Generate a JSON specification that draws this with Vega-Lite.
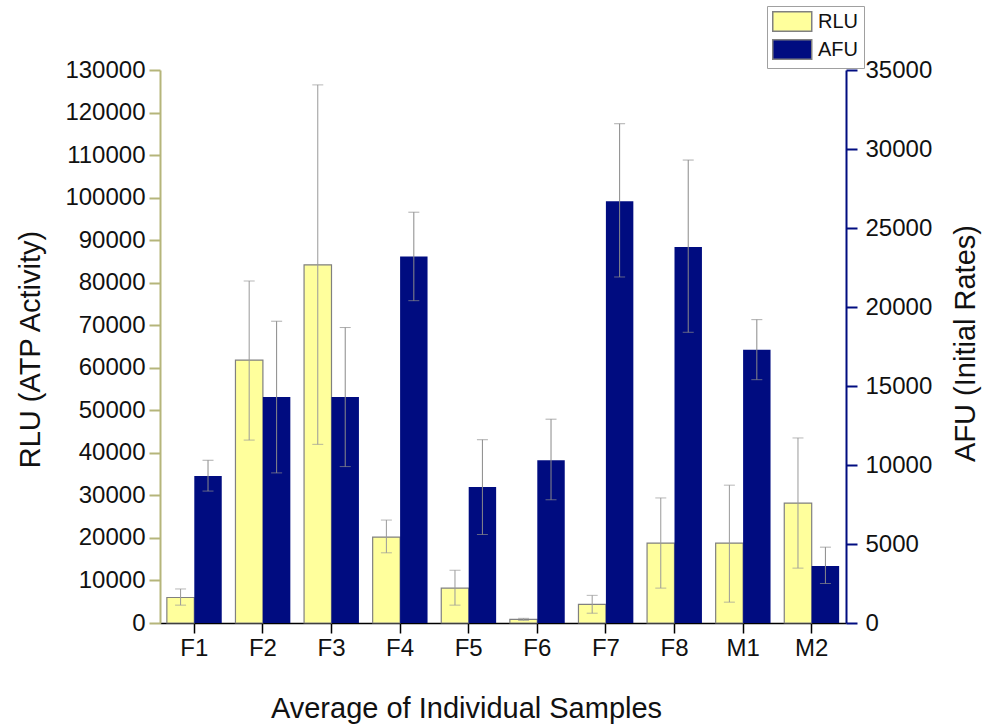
{
  "$schema": "https://vega.github.io/schema/vega-lite/v6.json",
  "width": 686,
  "height": 553,
  "autosize": {"type": "none"},
  "padding": {"left": 160, "top": 70, "right": 143, "bottom": 102},
  "background": "white",
  "config": {
    "view": {"stroke": null},
    "font": "Liberation Sans",
    "axis": {"grid": false, "labelColor": "#111", "titleColor": "#111", "titleFontWeight": "normal", "labelFont": "Liberation Sans", "titleFont": "Liberation Sans"},
    "legend": {"labelFont": "Liberation Sans"}
  },
  "data": {
    "values": [
      {"sample": "F1", "measure": "RLU", "value": 6000, "lo": 4200, "hi": 8000},
      {"sample": "F1", "measure": "AFU", "value": 9300, "lo": 8350, "hi": 10300},
      {"sample": "F2", "measure": "RLU", "value": 61800, "lo": 43000, "hi": 80400},
      {"sample": "F2", "measure": "AFU", "value": 14300, "lo": 9500, "hi": 19100},
      {"sample": "F3", "measure": "RLU", "value": 84200, "lo": 42000, "hi": 126500},
      {"sample": "F3", "measure": "AFU", "value": 14300, "lo": 9900, "hi": 18700},
      {"sample": "F4", "measure": "RLU", "value": 20200, "lo": 16500, "hi": 24200},
      {"sample": "F4", "measure": "AFU", "value": 23200, "lo": 20400, "hi": 26000},
      {"sample": "F5", "measure": "RLU", "value": 8200, "lo": 4200, "hi": 12400},
      {"sample": "F5", "measure": "AFU", "value": 8600, "lo": 5600, "hi": 11600},
      {"sample": "F6", "measure": "RLU", "value": 870, "lo": 600, "hi": 1100},
      {"sample": "F6", "measure": "AFU", "value": 10300, "lo": 7800, "hi": 12900},
      {"sample": "F7", "measure": "RLU", "value": 4400, "lo": 2300, "hi": 6500},
      {"sample": "F7", "measure": "AFU", "value": 26700, "lo": 21900, "hi": 31600},
      {"sample": "F8", "measure": "RLU", "value": 18800, "lo": 8200, "hi": 29400},
      {"sample": "F8", "measure": "AFU", "value": 23800, "lo": 18400, "hi": 29300},
      {"sample": "M1", "measure": "RLU", "value": 18800, "lo": 4900, "hi": 32400},
      {"sample": "M1", "measure": "AFU", "value": 17300, "lo": 15400, "hi": 19200},
      {"sample": "M2", "measure": "RLU", "value": 28200, "lo": 12900, "hi": 43500},
      {"sample": "M2", "measure": "AFU", "value": 3600, "lo": 2500, "hi": 4800}
    ]
  },
  "encoding": {
    "x": {
      "field": "sample", "type": "nominal", "sort": null,
      "scale": {"paddingInner": 0.2, "paddingOuter": 0.1},
      "axis": {
        "title": "Average of Individual Samples", "labelAngle": 0,
        "labelFontSize": 24, "titleFontSize": 29, "titleX": 306, "titleY": 85, "titleBaseline": "middle", "titleAlign": "center",
        "domainColor": "#000", "domainWidth": 1.5, "tickColor": "#000", "tickWidth": 1.5, "tickSize": 10, "labelPadding": 3
      }
    },
    "xOffset": {"field": "measure", "type": "nominal", "scale": {"domain": ["RLU", "AFU"]}}
  },
  "layer": [
    {
      "transform": [{"filter": "datum.measure === 'RLU'"}],
      "encoding": {
        "y": {
          "field": "value", "type": "quantitative",
          "scale": {"domain": [0, 130000], "nice": false},
          "axis": {
            "orient": "left", "title": "RLU (ATP Activity)", "values": [0,10000,20000,30000,40000,50000,60000,70000,80000,90000,100000,110000,120000,130000],
            "format": "d", "labelFontSize": 24, "titleFontSize": 29, "titleX": -130, "titleY": 279, "titleBaseline": "middle", "titleAlign": "center", "titleAngle": -90,
            "domainColor": "#b5b57a", "domainWidth": 2, "tickColor": "#b5b57a", "tickWidth": 2, "tickSize": 11, "labelPadding": 4
          }
        }
      },
      "layer": [
        {"mark": {"type": "bar", "stroke": "#808080", "strokeWidth": 1.2}, "encoding": {"color": {"field": "measure", "type": "nominal", "scale": {"domain": ["RLU", "AFU"], "range": ["#ffff9c", "#000c80"]}, "legend": {
          "title": null, "orient": "none", "legendX": 607, "legendY": -64, "labelFontSize": 20, "symbolType": "M-1,-1H3V1H-1Z", "symbolSize": 380, "symbolStrokeColor": "#808080", "symbolStrokeWidth": 1.5, "strokeColor": "#a0a0a0", "fillColor": "white", "padding": 5, "rowPadding": 1, "labelOffset": 25, "labelColor": "#111"
        }}}},
        {"mark": {"type": "rule", "color": "#999999", "strokeWidth": 1}, "encoding": {"y": {"field": "lo", "type": "quantitative"}, "y2": {"field": "hi"}}},
        {"mark": {"type": "tick", "color": "#999999", "thickness": 1, "size": 11}, "encoding": {"y": {"field": "hi", "type": "quantitative"}}},
        {"mark": {"type": "tick", "color": "#999999", "thickness": 1, "size": 11}, "encoding": {"y": {"field": "lo", "type": "quantitative"}}}
      ]
    },
    {
      "transform": [{"filter": "datum.measure === 'AFU'"}],
      "encoding": {
        "y": {
          "field": "value", "type": "quantitative",
          "scale": {"domain": [0, 35000], "nice": false},
          "axis": {
            "orient": "right", "title": "AFU (Initial Rates)", "values": [0,5000,10000,15000,20000,25000,30000,35000],
            "format": "d", "labelFontSize": 24, "titleFontSize": 29, "titleX": 119, "titleY": 273, "titleBaseline": "middle", "titleAlign": "center", "titleAngle": -90,
            "domainColor": "#000c80", "domainWidth": 2, "tickColor": "#000c80", "tickWidth": 2, "tickSize": 11, "labelPadding": 8
          }
        }
      },
      "layer": [
        {"mark": {"type": "bar"}, "encoding": {"color": {"field": "measure", "type": "nominal"}}},
        {"mark": {"type": "rule", "color": "#8a8a8a", "strokeWidth": 1}, "encoding": {"y": {"field": "lo", "type": "quantitative"}, "y2": {"field": "hi"}}},
        {"mark": {"type": "tick", "color": "#8a8a8a", "thickness": 1, "size": 11}, "encoding": {"y": {"field": "hi", "type": "quantitative"}}},
        {"mark": {"type": "tick", "color": "#8a8a8a", "thickness": 1, "size": 11}, "encoding": {"y": {"field": "lo", "type": "quantitative"}}}
      ]
    }
  ],
  "resolve": {"scale": {"y": "independent"}}
}
